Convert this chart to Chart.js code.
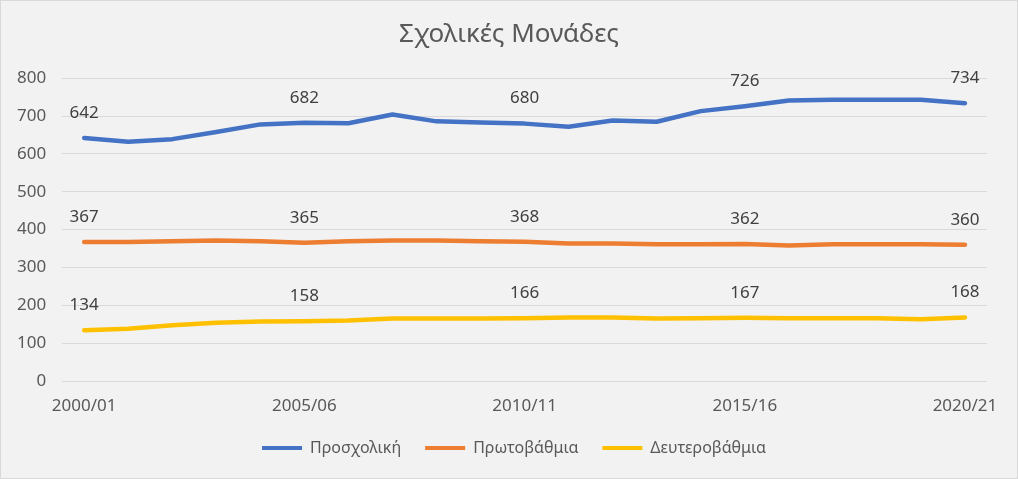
<!DOCTYPE html>
<html>
<head>
<meta charset="utf-8">
<script src="https://cdn.jsdelivr.net/npm/chart.js@4"></script>
<style>
  html, body { margin: 0; padding: 0; background: #ffffff; }
  #wrap { width: 1016px; height: 477px; border: 1px solid #d9d9d9; background: #f2f2f2; }
</style>
</head>
<body>
<div id="wrap"><canvas id="chart" width="1016" height="477"></canvas></div>
<script>
// School units per level, 2000/01 - 2020/21
const years = ['2000/01', '2001/02', '2002/03', '2003/04', '2004/05', '2005/06', '2006/07',
    '2007/08', '2008/09', '2009/10', '2010/11', '2011/12', '2012/13', '2013/14', '2014/15',
    '2015/16', '2016/17', '2017/18', '2018/19', '2019/20', '2020/21'];
const preschool = [642, 632, 639, 658, 678, 682, 681, 704, 686, 683, 680, 672, 688, 685, 713, 726, 741, 743, 743, 743, 734];
const primary = [367, 367, 369, 371, 369, 365, 369, 371, 371, 369, 368, 363, 363, 361, 361, 362, 358, 361, 361, 361, 360];
const secondary = [134, 138, 147, 154, 157, 158, 160, 165, 165, 165, 166, 168, 168, 165, 166, 167, 166, 166, 166, 163, 168];
const seriesNames = ['Προσχολική', 'Πρωτοβάθμια', 'Δευτεροβάθμια'];
const seriesColors = ['#4472C4', '#ED7D31', '#FFC000'];
const labelEvery = 5;

const fontFamily = '"Noto Sans", "Open Sans", sans-serif';

// Value labels above every 5th point
const valueLabels = {
    id: 'valueLabels',
    afterDatasetsDraw: (chart) => {
        const {ctx} = chart;
        ctx.save();
        ctx.font = '17px ' + fontFamily;
        ctx.fillStyle = '#404040';
        ctx.textAlign = 'center';
        ctx.textBaseline = 'middle';
        chart.data.datasets.forEach((ds, di) => {
            const meta = chart.getDatasetMeta(di);
            meta.data.forEach((el, i) => {
                if (i % labelEvery !== 0) return;
                ctx.fillText(String(ds.data[i]), el.x, el.y - 25);
            });
        });
        ctx.restore();
    }
};

// Excel centres the legend slightly right of the canvas centre: slide the legend box
const legendShift = {
    id: 'legendShift',
    afterLayout: (chart) => {
        const lg = chart.legend;
        if (!lg || !lg.lineWidths) return;
        const pad = lg.options.labels.padding;
        const start = (lg.left + pad + lg.right - lg.lineWidths[0]) / 2;
        const mid = start + (lg.lineWidths[0] - pad) / 2;
        const dx = 513 - mid;
        lg.left += dx;
        lg.right += dx;
    }
};

const makeSet = (data, i) => ({
    label: seriesNames[i],
    data: data,
    borderColor: seriesColors[i],
    backgroundColor: seriesColors[i],
    borderWidth: 4.5,
    pointRadius: 0,
    tension: 0,
    borderCapStyle: 'round',
    borderJoinStyle: 'round'
});

new Chart(document.getElementById('chart'), {
    type: 'line',
    data: {
        labels: years,
        datasets: [makeSet(preschool, 0), makeSet(primary, 1), makeSet(secondary, 2)]
    },
    options: {
        responsive: false,
        animation: false,
        layout: { padding: { left: 0, right: 0, top: 8, bottom: 12 } },
        scales: {
            x: {
                offset: true,
                grid: { display: false, drawTicks: false },
                border: { display: false },
                ticks: {
                    autoSkip: false,
                    maxRotation: 0,
                    padding: 15,
                    color: '#595959',
                    font: { family: fontFamily, size: 17 },
                    callback: (v, i) => i % labelEvery === 0 ? years[i] : ''
                },
                afterFit: (s) => { s.height = 35; }
            },
            y: {
                min: 0,
                max: 800,
                ticks: {
                    stepSize: 100,
                    padding: 16,
                    color: '#595959',
                    font: { family: fontFamily, size: 17 }
                },
                grid: { color: '#d9d9d9', lineWidth: 1, drawTicks: false },
                border: { display: false }
            },
            // empty spacer on the right so the title stays centred on the canvas
            spacer: {
                type: 'linear',
                position: 'right',
                grid: { display: false },
                border: { display: false },
                ticks: { display: false },
                afterFit: (s) => { s.width = 30; }
            }
        },
        plugins: {
            title: {
                display: true,
                text: 'Σχολικές Μονάδες',
                color: '#595959',
                font: { family: fontFamily, size: 26, weight: 'normal' },
                padding: { top: 10, bottom: 28 }
            },
            legend: {
                position: 'bottom',
                labels: {
                    boxWidth: 40,
                    boxHeight: 4,
                    padding: 24,
                    color: '#595959',
                    font: { family: fontFamily, size: 16 },
                    generateLabels: (chart) => Chart.defaults.plugins.legend.labels.generateLabels(chart)
                        .map(l => Object.assign(l, { lineWidth: 0 }))
                }
            },
            tooltip: { enabled: false }
        }
    },
    plugins: [valueLabels, legendShift]
});
</script>
</body>
</html>
